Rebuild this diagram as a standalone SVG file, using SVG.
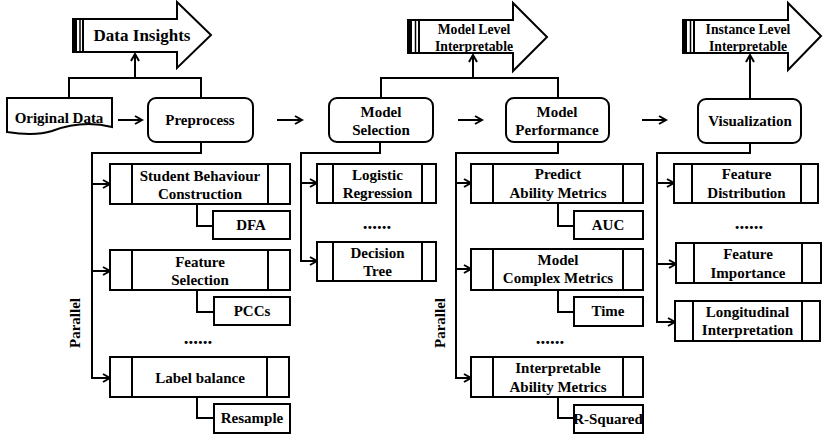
<svg xmlns="http://www.w3.org/2000/svg" width="831" height="438" viewBox="0 0 831 438">
<style>
  text { font-family: "Liberation Serif", "Times New Roman", serif; font-weight: bold; font-size: 15px; fill: #000; text-anchor: middle; }
  .small { font-size: 13.7px; }
  .big { font-size: 17px; }
  .dots { font-size: 19px; }
  .box { fill: #fff; stroke: #000; stroke-width: 2; }
  .ln { fill: none; stroke: #000; stroke-width: 2; }
  .con { fill: none; stroke: #000; stroke-width: 2; }
  .arr { fill: none; stroke: #000; stroke-width: 2; marker-end: url(#ah); }
</style>
<defs>
  <marker id="ah" markerUnits="userSpaceOnUse" markerWidth="12" markerHeight="12" refX="10" refY="6" orient="auto">
    <path d="M3,2 L10,6 L3,10" fill="none" stroke="#000" stroke-width="2"/>
  </marker>
</defs>
<rect width="831" height="438" fill="#fff"/>

<!-- connectors -->
<g id="connectors">
  <path class="con" d="M69,98 V78 H201 V98"/>
  <path class="arr" d="M135,78 V54"/>
  <path class="con" d="M381,98 V78 H558 V98"/>
  <path class="arr" d="M473,78 V55"/>
  <path class="arr" d="M750,98 V55"/>
  <path class="arr" d="M118,120 H142"/>
  <path class="arr" d="M277,120 H302"/>
  <path class="arr" d="M458,120 H482"/>
  <path class="arr" d="M642,120 H666"/>
  <!-- column 1 -->
  <path class="con" d="M201,142 V153 H92 V378"/>
  <path class="arr" d="M91,184 H110"/>
  <path class="arr" d="M91,271 H110"/>
  <path class="arr" d="M91,378 H110"/>
  <path class="con" d="M197,204 V226 H213"/>
  <path class="con" d="M197,290 V312 H214"/>
  <path class="con" d="M197,397 V418 H214"/>
  <!-- column 2 -->
  <path class="con" d="M380,142 V153 H301 V261"/>
  <path class="arr" d="M300,183 H317"/>
  <path class="arr" d="M300,261 H317"/>
  <!-- column 3 -->
  <path class="con" d="M558,142 V153 H456 V378"/>
  <path class="arr" d="M455,183 H471"/>
  <path class="arr" d="M455,269 H471"/>
  <path class="arr" d="M455,378 H471"/>
  <path class="con" d="M558,203 V226 H574"/>
  <path class="con" d="M558,290 V312 H574"/>
  <path class="con" d="M558,397 V418 H574"/>
  <!-- column 4 -->
  <path class="con" d="M750,143 V153 H657 V322"/>
  <path class="arr" d="M656,183 H674"/>
  <path class="arr" d="M656,264 H676"/>
  <path class="arr" d="M656,322 H675"/>
</g>

<!-- big arrows -->
<g id="data-insights">
  <polygon class="box" points="83,19 177,19 177,2 211,35 177,68 177,52 83,52"/>
  <rect class="box" x="73" y="19" width="10" height="33"/>
  <rect x="73" y="19" width="4" height="33" fill="#000"/>
  <line x1="80" y1="19" x2="80" y2="52" stroke="#000" stroke-width="1.5"/>
  <text class="big" x="142" y="41">Data Insights</text>
</g>
<g id="model-level">
  <polygon class="box" points="419,20 513,20 513,3 547,37 513,71 513,53 419,53"/>
  <rect class="box" x="408" y="20" width="11" height="33"/>
  <rect x="408" y="20" width="4" height="33" fill="#000"/>
  <line x1="415.5" y1="20" x2="415.5" y2="53" stroke="#000" stroke-width="1.5"/>
  <text class="small" x="474" y="34">Model Level</text>
  <text class="small" x="474" y="51">Interpretable</text>
</g>
<g id="instance-level">
  <polygon class="box" points="694,20 788,20 788,3 821,36 788,70 788,53 694,53"/>
  <rect class="box" x="683" y="20" width="11" height="33"/>
  <rect x="683" y="20" width="4" height="33" fill="#000"/>
  <line x1="690.5" y1="20" x2="690.5" y2="53" stroke="#000" stroke-width="1.5"/>
  <text class="small" x="748" y="34">Instance Level</text>
  <text class="small" x="748" y="51">Interpretable</text>
</g>

<!-- main flow -->
<g id="original-data">
  <path class="box" d="M7,98 H112 V127 C88,121 68,125 52,131 C36,136 20,134 7,132 Z"/>
  <text x="59" y="123">Original Data</text>
</g>
<g id="preprocess">
  <rect class="box" x="148" y="98" width="105" height="44" rx="8"/>
  <text x="200" y="125">Preprocess</text>
</g>
<g id="model-selection">
  <rect class="box" x="329" y="98" width="104" height="44" rx="8"/>
  <text x="381" y="117">Model</text>
  <text x="381" y="135">Selection</text>
</g>
<g id="model-performance">
  <rect class="box" x="506" y="98" width="103" height="44" rx="8"/>
  <text x="557" y="117">Model</text>
  <text x="557" y="135">Performance</text>
</g>
<g id="visualization">
  <rect class="box" x="698" y="99" width="103" height="44" rx="8"/>
  <text x="750" y="126">Visualization</text>
</g>

<!-- column 1 -->
<g id="student-behaviour">
  <rect class="box" x="110" y="164" width="180" height="40"/>
  <path class="ln" d="M132,164 V204 M268,164 V204"/>
  <text x="200" y="181">Student Behaviour</text>
  <text x="200" y="199">Construction</text>
</g>
<g id="dfa">
  <rect class="box" x="213" y="211" width="77" height="28"/>
  <text x="251" y="230">DFA</text>
</g>
<g id="feature-selection">
  <rect class="box" x="110" y="250" width="180" height="40"/>
  <path class="ln" d="M132,250 V290 M268,250 V290"/>
  <text x="200" y="267">Feature</text>
  <text x="200" y="285">Selection</text>
</g>
<g id="pccs">
  <rect class="box" x="214" y="297" width="76" height="28"/>
  <text x="252" y="316">PCCs</text>
</g>
<text class="dots" x="198" y="344">......</text>
<g id="label-balance">
  <rect class="box" x="110" y="357" width="179" height="40"/>
  <path class="ln" d="M132,357 V397 M267,357 V397"/>
  <text x="200" y="383">Label balance</text>
</g>
<g id="resample">
  <rect class="box" x="214" y="404" width="76" height="29"/>
  <text x="252" y="423">Resample</text>
</g>
<text transform="translate(80,323) rotate(-90)">Parallel</text>

<!-- column 2 -->
<g id="logistic-regression">
  <rect class="box" x="317" y="164" width="119" height="39"/>
  <path class="ln" d="M333,164 V203 M422,164 V203"/>
  <text x="377.5" y="180">Logistic</text>
  <text x="377.5" y="198">Regression</text>
</g>
<text class="dots" x="377" y="229">......</text>
<g id="decision-tree">
  <rect class="box" x="317" y="242" width="119" height="39"/>
  <path class="ln" d="M333,242 V281 M422,242 V281"/>
  <text x="377.5" y="258">Decision</text>
  <text x="377.5" y="276">Tree</text>
</g>

<!-- column 3 -->
<g id="predict-ability">
  <rect class="box" x="471" y="164" width="172" height="39"/>
  <path class="ln" d="M493,164 V203 M623,164 V203"/>
  <text x="558" y="179">Predict</text>
  <text x="558" y="198">Ability Metrics</text>
</g>
<g id="auc">
  <rect class="box" x="574" y="211" width="69" height="28"/>
  <text x="608" y="230">AUC</text>
</g>
<g id="model-complex">
  <rect class="box" x="471" y="249" width="172" height="41"/>
  <path class="ln" d="M493,249 V290 M623,249 V290"/>
  <text x="558" y="265">Model</text>
  <text x="558" y="283">Complex Metrics</text>
</g>
<g id="time">
  <rect class="box" x="574" y="297" width="69" height="29"/>
  <text x="608" y="316">Time</text>
</g>
<text class="dots" x="550" y="344">......</text>
<g id="interpretable-ability">
  <rect class="box" x="471" y="357" width="172" height="40"/>
  <path class="ln" d="M493,357 V397 M623,357 V397"/>
  <text x="558" y="373">Interpretable</text>
  <text x="558" y="392">Ability Metrics</text>
</g>
<g id="r-squared">
  <rect class="box" x="574" y="405" width="69" height="28"/>
  <text x="608" y="424">R-Squared</text>
</g>
<text transform="translate(445,323) rotate(-90)">Parallel</text>

<!-- column 4 -->
<g id="feature-distribution">
  <rect class="box" x="674" y="164" width="144" height="39"/>
  <path class="ln" d="M692,164 V203 M801,164 V203"/>
  <text x="746.5" y="179">Feature</text>
  <text x="746.5" y="198">Distribution</text>
</g>
<text class="dots" x="749" y="229">......</text>
<g id="feature-importance">
  <rect class="box" x="676" y="243" width="145" height="40"/>
  <path class="ln" d="M694,243 V283 M802,243 V283"/>
  <text x="748" y="259">Feature</text>
  <text x="748" y="278">Importance</text>
</g>
<g id="longitudinal">
  <rect class="box" x="675" y="301" width="145" height="40"/>
  <path class="ln" d="M693,301 V341 M802,301 V341"/>
  <text x="747.5" y="317">Longitudinal</text>
  <text x="747.5" y="335">Interpretation</text>
</g>
</svg>
